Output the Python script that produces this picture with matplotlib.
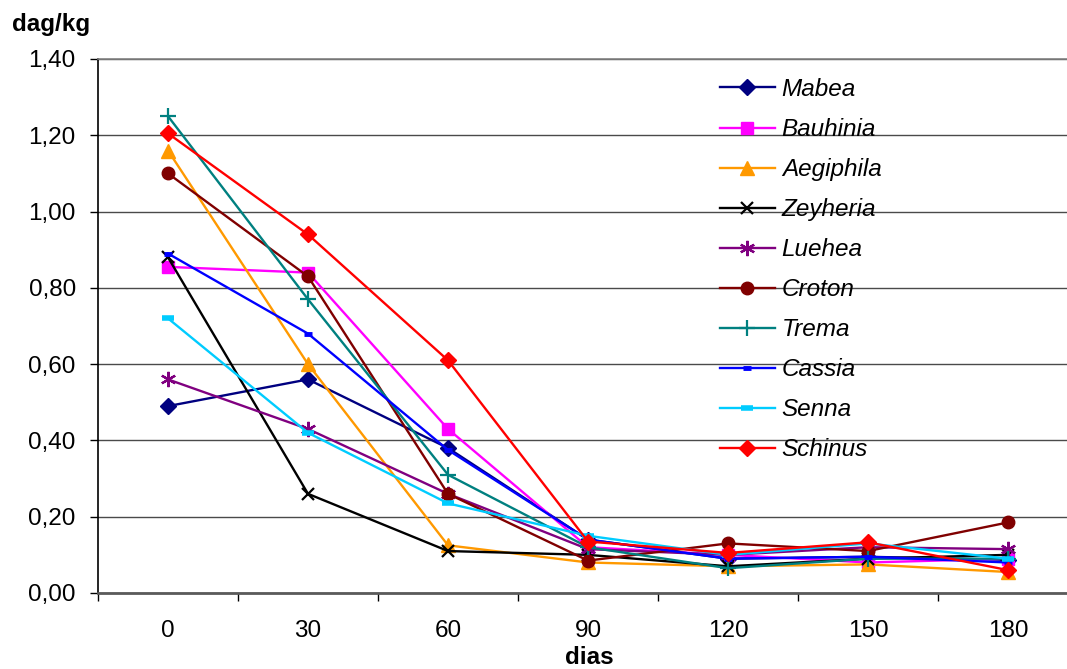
import matplotlib
matplotlib.use("Agg")
import matplotlib.pyplot as plt
from matplotlib.ticker import FixedLocator, FuncFormatter

plt.rcParams['font.family'] = ['Liberation Sans', 'DejaVu Sans']

dias = ["0", "30", "60", "90", "120", "150", "180"]

mabea = [0.49, 0.56, 0.38, 0.14, 0.09, 0.095, 0.087]
bauhinia = [0.855, 0.84, 0.43, 0.12, 0.10, 0.08, 0.09]
aegiphila = [1.16, 0.60, 0.125, 0.08, 0.07, 0.075, 0.055]
zeyheria = [0.88, 0.26, 0.11, 0.10, 0.07, 0.09, 0.10]
luehea = [0.56, 0.43, 0.26, 0.115, 0.10, 0.12, 0.115]
croton = [1.10, 0.83, 0.26, 0.085, 0.13, 0.11, 0.185]
trema = [1.25, 0.77, 0.31, 0.12, 0.065, 0.09, 0.09]
cassia = [0.89, 0.68, 0.375, 0.14, 0.09, 0.095, 0.08]
senna = [0.72, 0.42, 0.235, 0.15, 0.10, 0.13, 0.09]
schinus = [1.205, 0.94, 0.61, 0.135, 0.105, 0.133, 0.06]

series = [
    ("Mabea", mabea, "#000080", dict(marker="D", ms=8)),
    ("Bauhinia", bauhinia, "#FF00FF", dict(marker="s", ms=8.5)),
    ("Aegiphila", aegiphila, "#FF9900", dict(marker="^", ms=10)),
    ("Zeyheria", zeyheria, "#000000", dict(marker="x", ms=9, mew=1.6)),
    ("Luehea", luehea, "#800080", dict(marker=(6, 2, 0), ms=11, mew=1.6)),
    ("Croton", croton, "#800000", dict(marker="o", ms=9)),
    ("Trema", trema, "#008080", dict(marker="+", ms=11, mew=1.6)),
    ("Cassia", cassia, "#0000FF", dict(marker="_", ms=6, mew=3.5)),
    ("Senna", senna, "#00CCFF", dict(marker="_", ms=9, mew=4)),
    ("Schinus", schinus, "#FF0000", dict(marker="D", ms=8)),
]

FS = 17.5
W, H = 1067, 669
fig = plt.figure(figsize=(W / 100, H / 100), dpi=100)
left, right, top, bottom = 98, 1078, 59, 593
ax = fig.add_axes([left / W, (H - bottom) / H, (right - left) / W, (bottom - top) / H])

x = list(range(len(dias)))
for name, vals, color, mk in series:
    ax.plot(x, vals, color=color, lw=1.7, label=name, mfc=color, mec=color,
            clip_on=False, zorder=3, **mk)

ax.set_xlim(-0.5, len(dias) - 0.5)
ax.set_ylim(0, 1.4)

# y axis: gridlines every 0.20 with decimal comma labels
ax.yaxis.set_major_locator(FixedLocator([i * 0.2 for i in range(8)]))
ax.yaxis.set_major_formatter(FuncFormatter(lambda v, p: f"{v:.2f}".replace(".", ",")))
ax.grid(axis="y", color="#4a4a4a", lw=1.0, zorder=1)
ax.tick_params(axis="y", direction="out", length=6, width=1, pad=10, labelsize=FS)

# x axis: ticks between categories, labels centred on categories
ax.xaxis.set_major_locator(FixedLocator([i - 0.5 for i in range(len(dias) + 1)]))
ax.xaxis.set_major_formatter(FuncFormatter(lambda v, p: ""))
ax.set_xticks(x, minor=True)
ax.set_xticklabels(dias, minor=True)
ax.tick_params(axis="x", which="major", direction="out", length=6, width=1, color="#000000")
ax.tick_params(axis="x", which="minor", length=0, pad=19.5, labelsize=FS)

ax.spines["right"].set_visible(False)
ax.spines["top"].set_color("#808080")
ax.spines["top"].set_linewidth(1.2)
ax.spines["left"].set_color("#000000")
ax.spines["left"].set_linewidth(1.2)
ax.spines["bottom"].set_color("#5a5a5a")
ax.spines["bottom"].set_linewidth(2.0)

fig.text(12 / W, 1 - 25 / H, "dag/kg", fontsize=FS, fontweight="bold", va="center", ha="left")
fig.text(589 / W, 1 - 657 / H, "dias", fontsize=FS, fontweight="bold", va="center", ha="center")

leg = ax.legend(loc="upper left", bbox_to_anchor=(720 / W, 1 - 78 / H), bbox_transform=fig.transFigure,
                frameon=False, prop=dict(style="italic", size=FS), handlelength=2.26,
                handletextpad=0.28, labelspacing=0.70, borderaxespad=0, borderpad=0)

fig.savefig("out.png", dpi=100)
